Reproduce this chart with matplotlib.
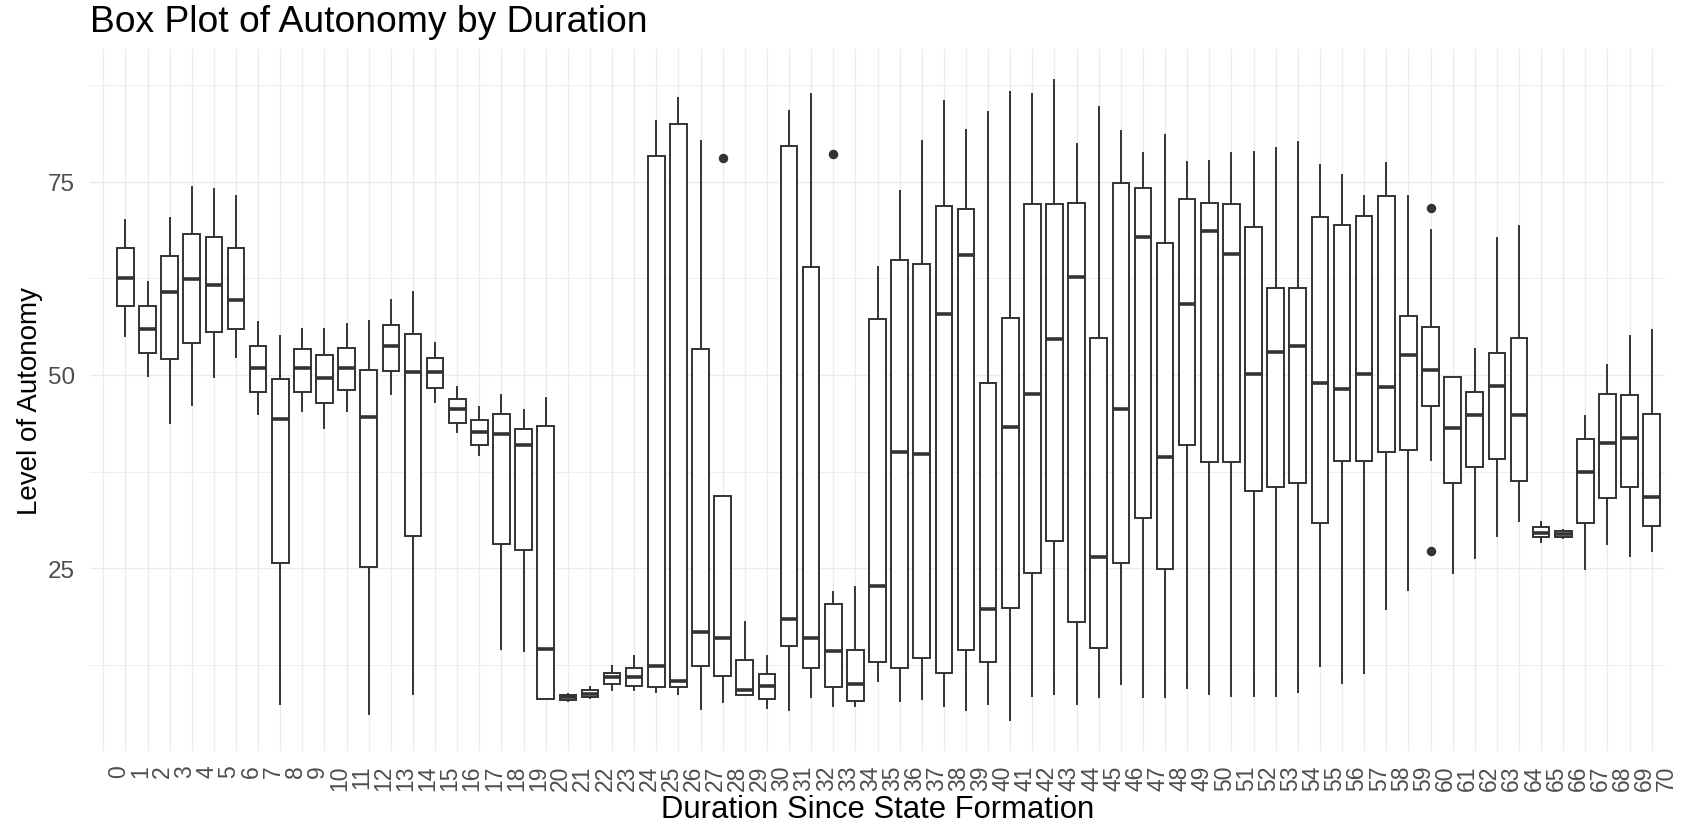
import matplotlib
matplotlib.use("Agg")
import matplotlib.pyplot as plt
from matplotlib.transforms import ScaledTranslation

# duration categories on the axis (0 has no observations)
categories = list(range(0, 71))
durations = list(range(1, 71))

# box statistics, one value per duration 1..70
whislo = [55.1, 49.9, 43.8, 46.1, 49.7, 52.3, 45.0, 7.4, 45.3, 43.1,
          45.3, 6.2, 47.5, 8.75, 46.55, 42.6, 39.7, 14.6, 14.35, 8.1,
          7.9, 8.2, 9.3, 9.3, 9.0, 8.75, 6.8, 7.75, 8.6, 6.9,
          6.7, 8.4, 7.2, 7.2, 10.4, 7.85, 8.05, 7.2, 6.7, 7.5,
          5.4, 8.5, 8.7, 7.5, 8.3, 10.0, 8.4, 8.4, 9.5, 8.75,
          8.5, 8.5, 8.5, 9.0, 12.4, 10.2, 11.4, 19.8, 22.2, 39.0,
          24.35, 26.3, 29.2, 31.1, 28.4, 28.9, 24.9, 28.2, 26.6, 27.3]
q1 = [58.9, 52.8, 52.1, 54.1, 55.6, 56.0, 47.8, 25.65, 47.8, 46.4,
      48.1, 25.2, 50.5, 29.2, 48.3, 43.8, 41.0, 28.2, 27.4, 8.1,
      8.0, 8.4, 10.05, 9.8, 9.6, 9.6, 12.3, 11.1, 8.6, 8.1,
      14.9, 12.1, 9.7, 7.9, 12.9, 12.1, 13.45, 11.5, 14.4, 12.9,
      19.9, 24.4, 28.5, 18.0, 14.65, 25.65, 31.5, 24.9, 41.0, 38.7,
      38.7, 35.0, 35.5, 36.0, 30.9, 38.9, 38.9, 40.1, 40.3, 46.0,
      36.0, 38.15, 39.1, 36.3, 29.0, 29.1, 30.9, 34.05, 35.5, 30.5]
median = [62.6, 55.9, 60.7, 62.4, 61.7, 59.7, 50.9, 44.3, 50.9, 49.65,
          50.9, 44.6, 53.75, 50.4, 50.4, 45.55, 42.6, 42.4, 41.0, 14.5,
          8.3, 8.8, 11.0, 10.9, 12.4, 10.4, 16.7, 15.95, 9.2, 9.8,
          18.4, 15.95, 14.3, 10.0, 22.7, 40.0, 39.8, 57.9, 65.5, 19.7,
          43.3, 47.5, 54.6, 62.7, 26.5, 45.55, 67.9, 39.4, 59.2, 68.65,
          65.7, 50.1, 53.0, 53.7, 48.9, 48.2, 50.1, 48.4, 52.6, 50.6,
          43.1, 44.8, 48.6, 44.8, 29.6, 29.4, 37.4, 41.2, 41.8, 34.2]
q3 = [66.4, 58.9, 65.4, 68.2, 67.8, 66.4, 53.8, 49.5, 53.3, 52.6,
      53.5, 50.7, 56.5, 55.3, 52.2, 46.85, 44.2, 44.9, 43.0, 43.45,
      8.6, 9.2, 11.5, 12.1, 78.3, 82.4, 53.3, 34.3, 13.2, 11.3,
      79.6, 64.0, 20.4, 14.4, 57.2, 64.9, 64.4, 71.8, 71.5, 49.0,
      57.4, 72.1, 72.1, 72.3, 54.75, 74.8, 74.2, 67.05, 72.8, 72.3,
      72.1, 69.2, 61.3, 61.3, 70.4, 69.4, 70.6, 73.1, 57.6, 56.2,
      49.7, 47.8, 52.9, 54.75, 30.3, 29.8, 41.7, 47.6, 47.4, 44.9]
whishi = [70.0, 62.0, 70.25, 74.35, 74.05, 73.1, 56.8, 55.05, 56.0, 56.0,
          56.6, 57.0, 59.7, 60.7, 54.2, 48.4, 45.8, 47.4, 45.5, 47.0,
          8.7, 9.7, 12.3, 13.7, 82.8, 85.8, 80.3, 34.3, 18.1, 13.7,
          84.2, 86.4, 21.9, 22.6, 64.0, 73.8, 80.3, 85.4, 81.7, 84.0,
          86.6, 86.4, 88.1, 79.9, 84.6, 81.5, 78.7, 81.1, 77.5, 77.7,
          78.7, 78.9, 79.4, 80.1, 77.2, 75.8, 73.1, 77.4, 73.1, 68.8,
          49.7, 53.4, 67.7, 69.3, 31.0, 30.0, 44.7, 51.3, 55.1, 55.8]
outliers = {28: [78.1], 33: [78.6], 60: [71.6, 27.3]}

plt.rcParams['font.family'] = ['Liberation Sans', 'DejaVu Sans']

stats = []
for i, d in enumerate(durations):
    stats.append(dict(whislo=whislo[i], q1=q1[i], med=median[i], q3=q3[i],
                      whishi=whishi[i], fliers=outliers.get(d, [])))

fig = plt.figure(figsize=(16.84, 8.29), dpi=100)
ax = fig.add_axes([90 / 1684, (829 - 751.7) / 829, 1575 / 1684, 701.7 / 829])

line = '#333333'
ax.bxp(stats, positions=durations, widths=0.75, showcaps=False, patch_artist=True,
       boxprops=dict(facecolor='white', edgecolor=line, linewidth=1.4),
       whiskerprops=dict(color=line, linewidth=1.4),
       medianprops=dict(color=line, linewidth=2.6),
       flierprops=dict(marker='o', markerfacecolor=line, markeredgecolor=line,
                       markersize=5.8, linestyle='none'))

ax.set_xlim(-0.6, 70.6)
ax.set_ylim(1.41, 92.16)
ax.set_xticks(categories)
ax.set_xticklabels([str(c) for c in categories], rotation=90, ha='left', va='top')
ax.set_yticks([25, 50, 75])
ax.set_yticks([12.5, 37.5, 62.5, 87.5], minor=True)

ax.set_axisbelow(True)
ax.grid(which='major', color='#EBEBEB', linewidth=1.0)
ax.grid(which='minor', axis='y', color='#EBEBEB', linewidth=0.6)
for s in ax.spines.values():
    s.set_visible(False)
ax.tick_params(which='both', length=0)
ax.tick_params(axis='x', pad=10, labelsize=16.5, labelcolor='#4D4D4D')
ax.tick_params(axis='y', pad=11, labelsize=17.5, labelcolor='#4D4D4D')

shift = ScaledTranslation(2.5 / 72, 0, fig.dpi_scale_trans)
for lab in ax.get_xticklabels():
    lab.set_transform(lab.get_transform() + shift)

ax.set_title('Box Plot of Autonomy by Duration', loc='left', fontsize=26.8, pad=13)
ax.set_xlabel('Duration Since State Formation', fontsize=22.3)
ax.xaxis.label.set_va('baseline')
ax.xaxis.set_label_coords(0.5, -0.0949)
ax.set_ylabel('Level of Autonomy', fontsize=20)
ax.yaxis.label.set_va('baseline')
ax.yaxis.set_label_coords(-0.0338, 0.5)

fig.savefig('out.png', dpi=100, facecolor='white')
